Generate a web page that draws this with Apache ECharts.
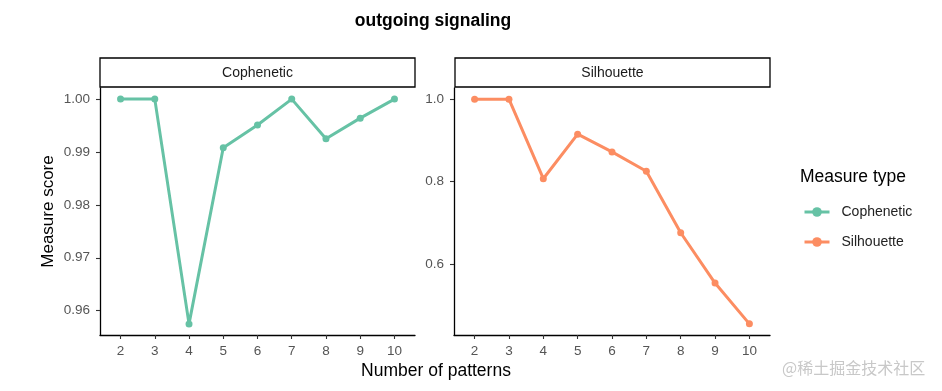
<!DOCTYPE html>
<html>
<head>
<meta charset="utf-8">
<script src="https://cdn.jsdelivr.net/npm/echarts@6/dist/echarts.min.js"></script>
<style>html,body{margin:0;padding:0;background:#fff}#c{width:942px;height:391px}</style>
</head>
<body>
<div id="c"></div>
<script>
var patterns = [2, 3, 4, 5, 6, 7, 8, 9, 10];
var cophenetic = [1.000, 1.000, 0.9575, 0.9908, 0.9951, 1.000, 0.9925, 0.9964, 1.000];
var silhouette = [1.000, 1.000, 0.807, 0.915, 0.872, 0.825, 0.676, 0.554, 0.455];
var copheneticTicks = [0.96, 0.97, 0.98, 0.99, 1.00];
var silhouetteTicks = [0.6, 0.8, 1.0];
var panelNames = ['Cophenetic', 'Silhouette'];
var colors = ['#66C2A5', '#FC8D62'];

var FONT = 'Liberation Sans, Arial, sans-serif';
function pairs(xs, ys) { return xs.map(function (x, i) { return [x, ys[i]]; }); }

var chart = echarts.init(document.getElementById('c'), null, { renderer: 'canvas' });

function xAxisCfg(gi) {
  return {
    type: 'value', gridIndex: gi, min: 1.4, max: 10.6,
    axisLine: { show: true, lineStyle: { color: '#000', width: 1.3 } },
    axisTick: { show: true, length: 4, lineStyle: { color: '#333', width: 1.1 }, customValues: patterns },
    axisLabel: { color: '#555', fontSize: 13.5, fontFamily: FONT, margin: 9, customValues: patterns },
    splitLine: { show: false }
  };
}
function yAxisCfg(gi, mn, mx, ticks, dec, name) {
  return {
    type: 'value', gridIndex: gi, min: mn, max: mx,
    name: name || '', nameLocation: 'middle', nameGap: 43, nameRotate: 90,
    nameTextStyle: { color: '#000', fontSize: 17, fontFamily: FONT },
    axisLine: { show: true, lineStyle: { color: '#000', width: 1.3 } },
    axisTick: { show: true, length: 4, lineStyle: { color: '#333', width: 1.1 }, customValues: ticks },
    axisLabel: { color: '#555', fontSize: 13.5, fontFamily: FONT, margin: 10, customValues: ticks,
      formatter: function (v) { return v.toFixed(dec); } },
    splitLine: { show: false }
  };
}

var option = {
  backgroundColor: '#fff',
  animation: false,
  title: [
    { text: 'outgoing signaling', left: 428, top: 7, textAlign: 'center',
      textStyle: { fontSize: 17.5, fontWeight: 'bold', color: '#000', fontFamily: FONT } },
    { text: 'Number of patterns', left: 431, top: 357, textAlign: 'center',
      textStyle: { fontSize: 17.5, fontWeight: 'normal', color: '#000', fontFamily: FONT } },
    { text: 'Measure type', left: 795, top: 163,
      textStyle: { fontSize: 17.5, fontWeight: 'normal', color: '#000', fontFamily: FONT } },
    { text: '@稀土掘金技术社区', left: 777, top: 355,
      textStyle: { fontSize: 16, fontWeight: 'normal', color: '#c8c8c8', fontFamily: 'Noto Sans CJK SC' } }
  ],
  grid: [
    { left: 100, top: 88, width: 315, height: 247 },
    { left: 454, top: 88, width: 316, height: 247 }
  ],
  xAxis: [xAxisCfg(0), xAxisCfg(1)],
  yAxis: [
    yAxisCfg(0, 0.9554, 1.0021, copheneticTicks, 2, 'Measure score'),
    yAxisCfg(1, 0.428, 1.027, silhouetteTicks, 1)
  ],
  legend: {
    orient: 'vertical', left: 798, top: 200, itemWidth: 25, itemHeight: 12, itemGap: 16,
    lineStyle: { width: 3 },
    textStyle: { fontSize: 14, color: '#222', fontFamily: FONT, padding: [0, 0, 0, 7] },
    data: panelNames
  },
  graphic: [
    { type: 'rect', shape: { x: 100, y: 58, width: 315, height: 29 },
      style: { fill: '#fff', stroke: '#000', lineWidth: 1.3 } },
    { type: 'text', x: 257.5, y: 73, style: { text: panelNames[0], fill: '#1a1a1a', fontSize: 14, fontFamily: FONT, align: 'center', verticalAlign: 'middle' } },
    { type: 'rect', shape: { x: 455, y: 58, width: 315, height: 29 },
      style: { fill: '#fff', stroke: '#000', lineWidth: 1.3 } },
    { type: 'text', x: 612.5, y: 73, style: { text: panelNames[1], fill: '#1a1a1a', fontSize: 14, fontFamily: FONT, align: 'center', verticalAlign: 'middle' } }
  ],
  series: [
    { name: panelNames[0], type: 'line', xAxisIndex: 0, yAxisIndex: 0,
      data: pairs(patterns, cophenetic), symbol: 'circle', symbolSize: 7,
      lineStyle: { width: 3, color: colors[0] }, itemStyle: { color: colors[0] } },
    { name: panelNames[1], type: 'line', xAxisIndex: 1, yAxisIndex: 1,
      data: pairs(patterns, silhouette), symbol: 'circle', symbolSize: 7,
      lineStyle: { width: 3, color: colors[1] }, itemStyle: { color: colors[1] } }
  ]
};
chart.setOption(option);
</script>
</body>
</html>
